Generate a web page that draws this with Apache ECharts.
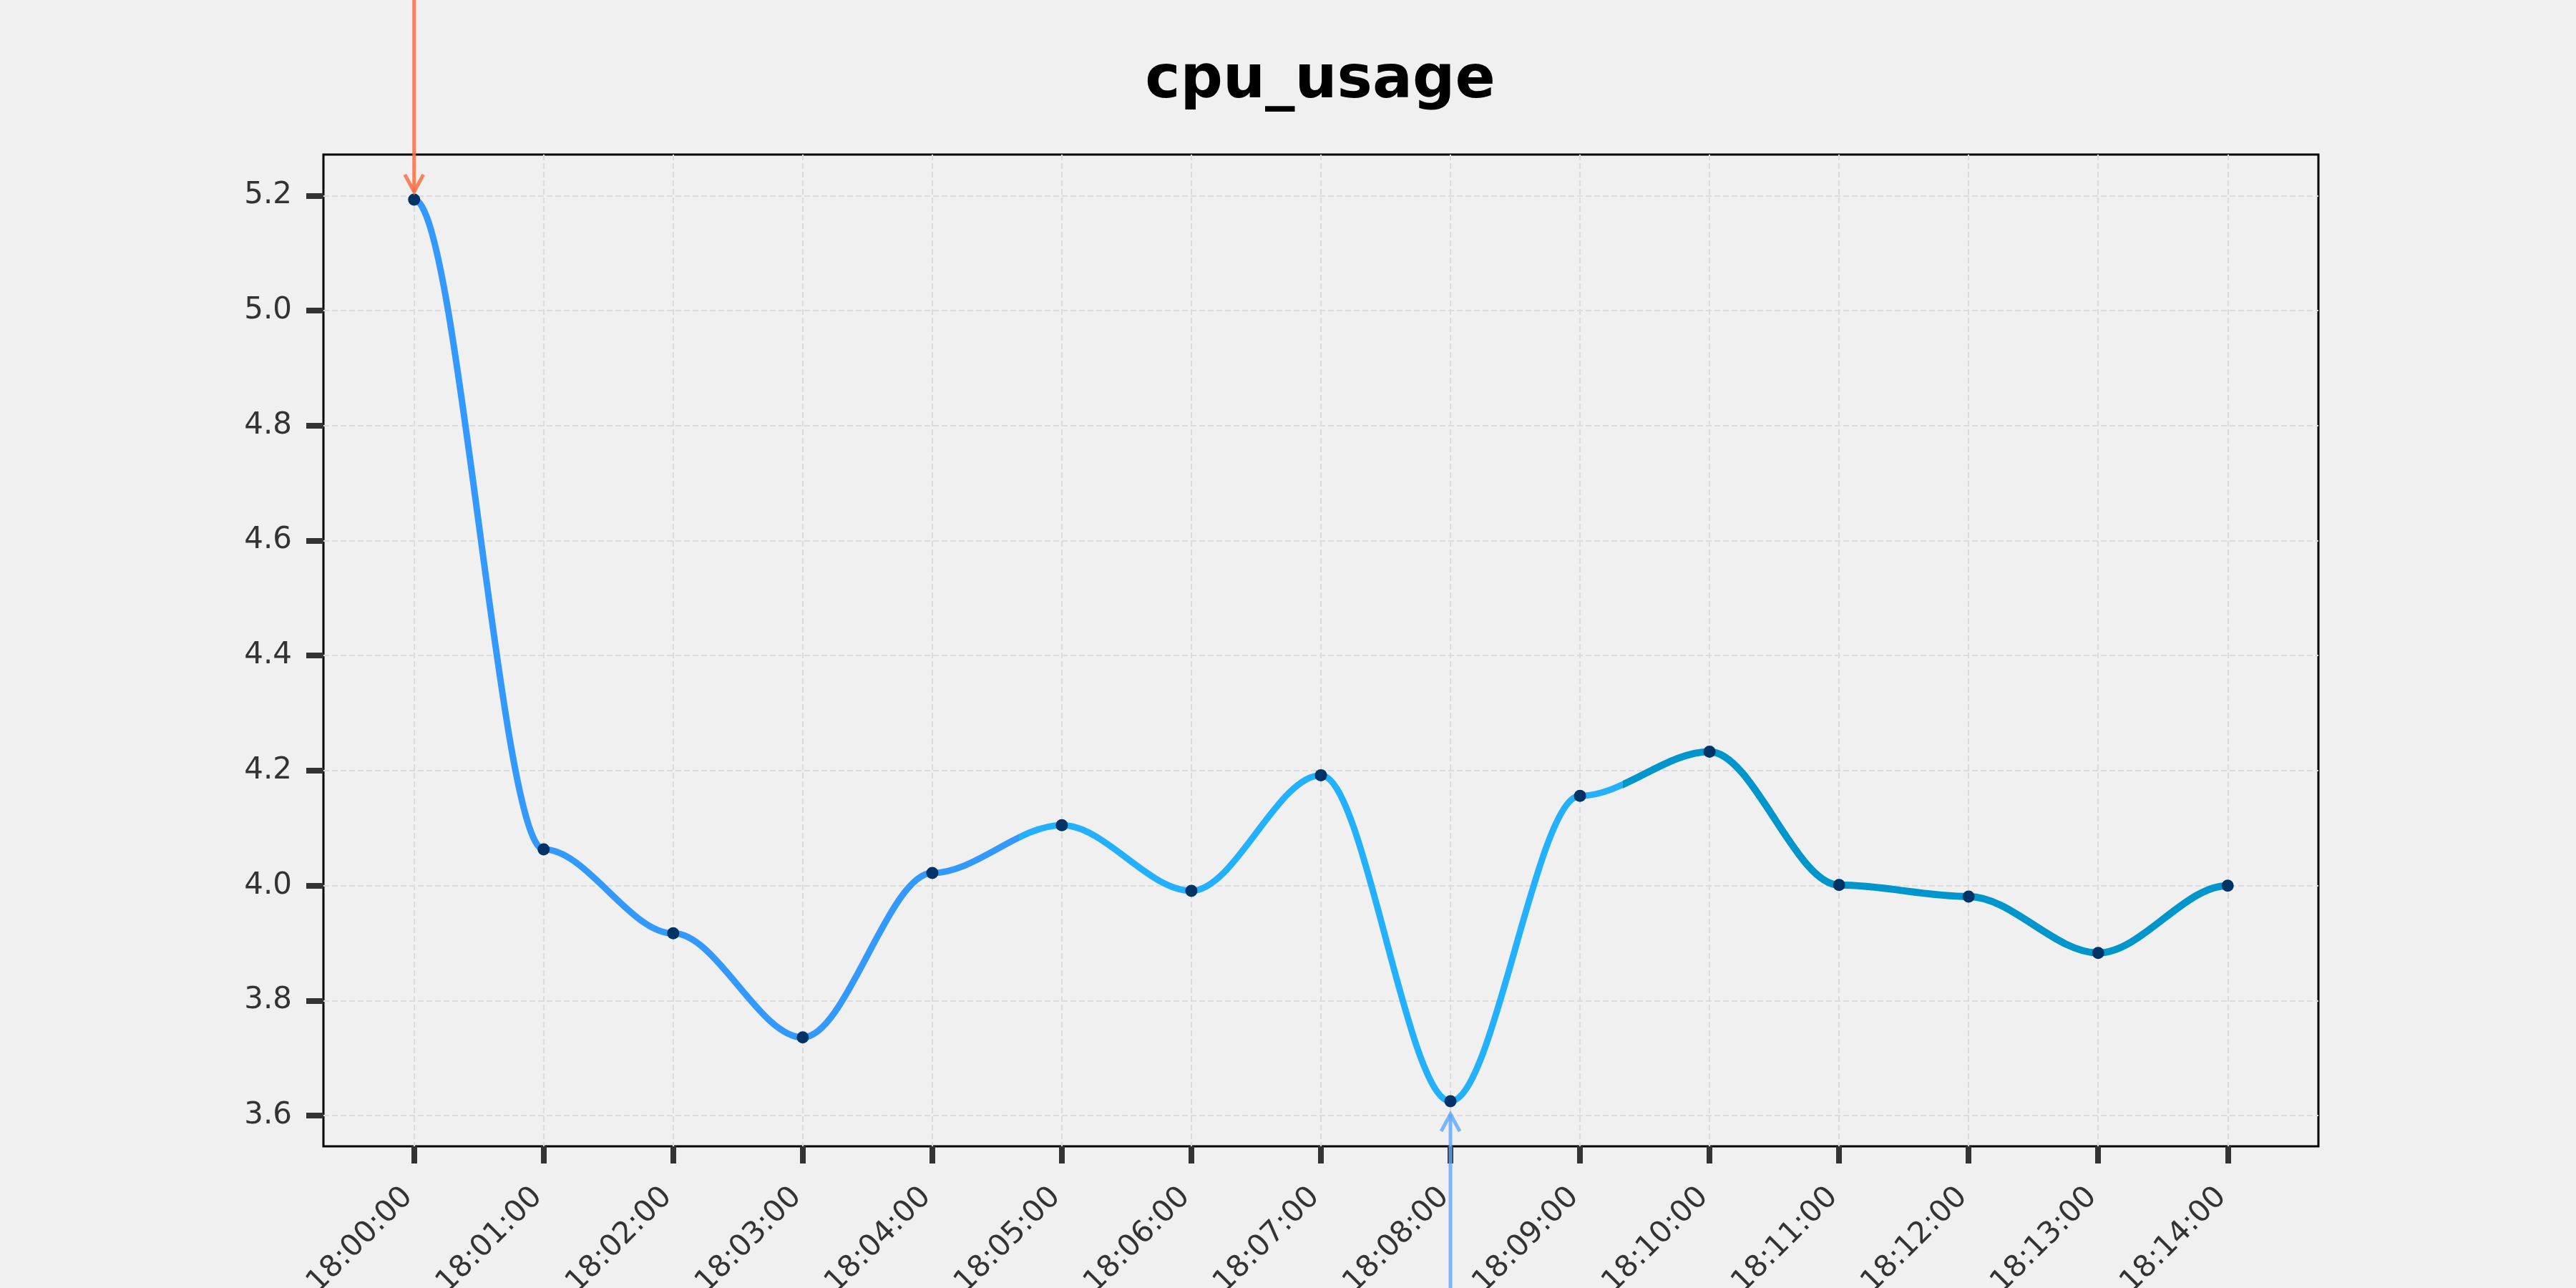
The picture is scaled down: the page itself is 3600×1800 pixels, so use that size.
<!DOCTYPE html>
<html>
<head>
<meta charset="utf-8">
<script src="https://cdn.jsdelivr.net/npm/echarts@6/dist/echarts.min.js"></script>
<style>
html,body{margin:0;padding:0;background:#f0f0f0;}
#chart{width:3600px;height:1800px;}
</style>
</head>
<body>
<div id="chart"></div>
<script>
// ---- data ----
const times = ['18:00:00','18:01:00','18:02:00','18:03:00','18:04:00','18:05:00','18:06:00','18:07:00','18:08:00','18:09:00','18:10:00','18:11:00','18:12:00','18:13:00','18:14:00'];
const cpuUsage = [5.193, 4.063, 3.917, 3.736, 4.022, 4.105, 3.991, 4.192, 3.625, 4.156, 4.233, 4.001, 3.981, 3.883, 4.000];
const yTickValues = [3.6, 3.8, 4.0, 4.2, 4.4, 4.6, 4.8, 5.0, 5.2];
const segmentColors = ['#3399FF', '#22B0FF', '#0096CC'];
const titleText = 'cpu_usage';

// ---- layout / style ----
const FONT = 'DejaVu Sans';
const gridBox = {left: 452, right: 360, top: 216, bottom: 198};
const segmentWidths = [9, 9, 10];
const n = times.length;
const xIdx = times.map((_, i) => i);
const xPad = 0.05 * (n - 1);
const yMinData = Math.min(...cpuUsage), yMaxData = Math.max(...cpuUsage);
const yPad = 0.05 * (yMaxData - yMinData);
const points = cpuUsage.map((v, i) => [i, v]);

const chart = echarts.init(document.getElementById('chart'), null, {renderer: 'canvas'});

// smooth curve: cubic segments with horizontal tangents at each sample, mapped through the axes
function renderCurve(params, api) {
  if (params.dataIndex !== 0) return null;
  const P = points.map(p => api.coord(p));
  let d = 'M' + P[0][0] + ' ' + P[0][1];
  for (let i = 0; i < n - 1; i++) {
    const c1 = api.coord([i + 1/3, cpuUsage[i]]);
    const c2 = api.coord([i + 2/3, cpuUsage[i + 1]]);
    d += ' C' + c1[0] + ' ' + c1[1] + ' ' + c2[0] + ' ' + c2[1] + ' ' + P[i + 1][0] + ' ' + P[i + 1][1];
  }
  const x0 = P[0][0], x1 = P[n - 1][0];
  const children = segmentColors.map((col, k) => {
    const a = k / 3, b = (k + 1) / 3;
    const stops = [];
    if (a > 0) { stops.push({offset: 0, color: 'rgba(0,0,0,0)'}, {offset: a, color: 'rgba(0,0,0,0)'}); }
    stops.push({offset: a, color: col}, {offset: b, color: col});
    if (b < 1) { stops.push({offset: b, color: 'rgba(0,0,0,0)'}, {offset: 1, color: 'rgba(0,0,0,0)'}); }
    return {
      type: 'path',
      shape: {pathData: d},
      style: {
        fill: 'none',
        stroke: new echarts.graphic.LinearGradient(x0, 0, x1, 0, stops, true),
        lineWidth: segmentWidths[k],
        lineJoin: 'round'
      }
    };
  });
  return {type: 'group', children};
}

chart.setOption({
  backgroundColor: '#f0f0f0',
  animation: false,
  title: {
    text: titleText,
    left: 1840,
    textAlign: 'center',
    top: 68,
    textStyle: {fontFamily: FONT, fontSize: 83, fontWeight: 'bold', color: '#000'}
  },
  grid: {
    left: gridBox.left, right: gridBox.right, top: gridBox.top, bottom: gridBox.bottom,
    outerBoundsMode: 'none', containLabel: false,
    show: true, borderColor: '#000', borderWidth: 3, backgroundColor: 'transparent'
  },
  xAxis: {
    type: 'value',
    min: -xPad,
    max: (n - 1) + xPad,
    axisLine: {show: false, onZero: false},
    axisTick: {show: true, inside: false, length: 24, customValues: xIdx,
      lineStyle: {color: '#333', width: 8}},
    axisLabel: {
      customValues: xIdx,
      rotate: 45,
      margin: 56,
      padding: [0, 12, 40, 0],
      fontFamily: FONT, fontSize: 42, color: '#333',
      formatter: v => times[Math.round(v)] || ''
    },
    splitLine: {show: true, lineStyle: {color: '#dcdcdc', width: 2, type: [8, 4]}}
  },
  yAxis: {
    type: 'value',
    min: yMinData - yPad,
    max: yMaxData + yPad,
    axisLine: {show: false, onZero: false},
    axisTick: {show: true, inside: false, length: 24, customValues: yTickValues,
      lineStyle: {color: '#333', width: 8}},
    axisLabel: {
      customValues: yTickValues,
      margin: 44,
      fontFamily: FONT, fontSize: 42, color: '#333',
      formatter: v => Number(v).toFixed(1)
    },
    splitLine: {show: true, lineStyle: {color: '#dcdcdc', width: 2, type: [8, 4]}}
  },
  series: [{
    type: 'custom',
    data: points,
    encode: {x: 0, y: 1},
    renderItem: renderCurve,
    clip: false,
    z: 3
  }, {
    type: 'scatter',
    data: points,
    symbol: 'circle',
    symbolSize: 17,
    itemStyle: {color: '#003366', opacity: 1},
    z: 5
  }]
});

// ---- annotation arrows at max and min ----
const iMax = cpuUsage.indexOf(yMaxData);
const iMin = cpuUsage.indexOf(yMinData);
const pMax = chart.convertToPixel({xAxisIndex: 0, yAxisIndex: 0}, [iMax, yMaxData]);
const pMin = chart.convertToPixel({xAxisIndex: 0, yAxisIndex: 0}, [iMin, yMinData]);
const H = chart.getHeight();

function arrow(x, yFrom, yTip, dir, color) {
  // dir = +1 arrow points down, -1 arrow points up
  const wingDy = 24 * dir, wingDx = 13;
  return [
    {type: 'line', z: 100, shape: {x1: x, y1: yFrom, x2: x, y2: yTip},
      style: {stroke: color, lineWidth: 5}},
    {type: 'polyline', z: 100, shape: {points: [[x - wingDx, yTip - wingDy], [x, yTip], [x + wingDx, yTip - wingDy]]},
      style: {stroke: color, lineWidth: 5, fill: null, lineJoin: 'miter'}}
  ];
}

chart.setOption({
  graphic: [
    ...arrow(pMax[0], 0, pMax[1] - 11, 1, 'rgba(248,112,66,0.85)'),
    ...arrow(pMin[0], H, pMin[1] + 18, -1, 'rgba(92,168,250,0.8)')
  ]
});
</script>
</body>
</html>
